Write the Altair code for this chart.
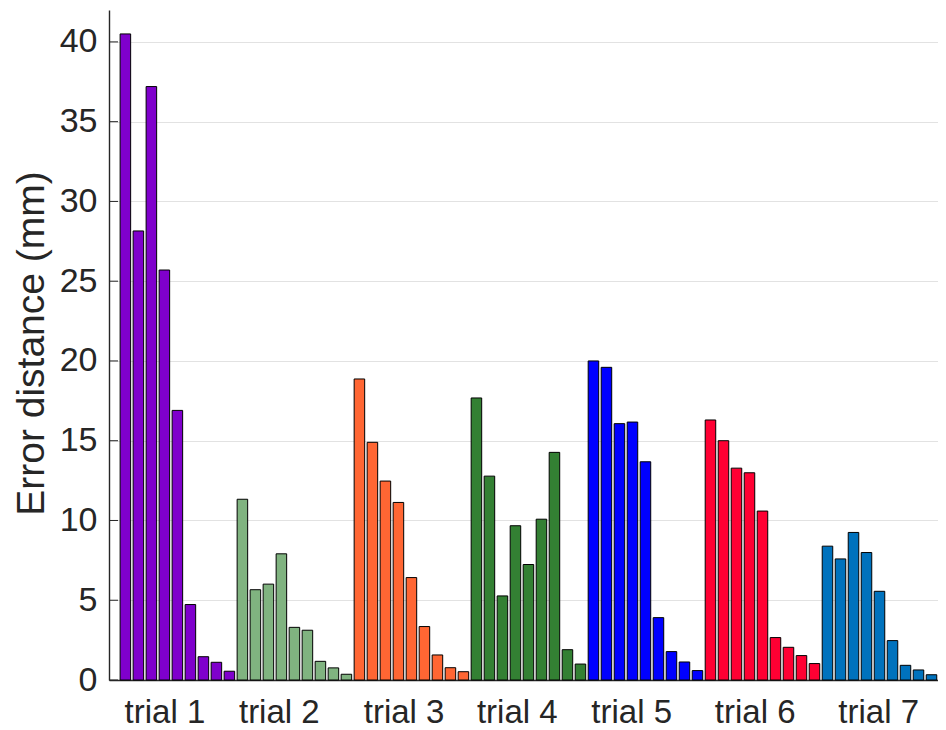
import altair as alt
import pandas as pd

trials = ["trial 1", "trial 2", "trial 3", "trial 4", "trial 5", "trial 6", "trial 7"]
colors = ["#7F00CC", "#80B380", "#FF6633", "#338033", "#0000FF", "#FF0033", "#0072BD"]

trial1 = [40.5, 28.15, 37.2, 25.7, 16.9, 4.73, 1.46, 1.11, 0.55]
trial2 = [11.33, 5.66, 6.01, 7.91, 3.30, 3.12, 1.17, 0.76, 0.36]
trial3 = [18.87, 14.9, 12.47, 11.13, 6.42, 3.35, 1.57, 0.77, 0.52]
trial4 = [17.68, 12.78, 5.27, 9.67, 7.24, 10.08, 14.27, 1.90, 1.00]
trial5 = [20.0, 19.6, 16.07, 16.17, 13.68, 3.91, 1.78, 1.13, 0.59]
trial6 = [16.3, 15.0, 13.28, 12.99, 10.59, 2.66, 2.05, 1.53, 1.03]
trial7 = [8.39, 7.59, 9.25, 7.99, 5.56, 2.47, 0.92, 0.63, 0.33]

label_pos = [3.5, 12.3, 21.9, 30.6, 39.4, 48.9, 58.4]
y_ticks = [0, 5, 10, 15, 20, 25, 30, 35, 40]

series = [trial1, trial2, trial3, trial4, trial5, trial6, trial7]
rows = []
idx = 0
for name, vals in zip(trials, series):
    for v in vals:
        rows.append({"trial": name, "idx": idx, "value": v})
        idx += 1
df = pd.DataFrame(rows)

# label expression built from the tick positions / names
expr = "''"
for pos, name in reversed(list(zip(label_pos, trials))):
    expr = f"abs(datum.value - {pos}) < 0.01 ? '{name}' : ({expr})"

FONT = "Liberation Sans"
DARK = "#262626"

yscale = alt.Scale(domain=[0, 42], nice=False)

bars = alt.Chart(df).transform_calculate(
    x0="datum.idx + 0.095", x1="datum.idx + 0.905"
).mark_bar(stroke="black", strokeWidth=1).encode(
    x=alt.X(
        "x0:Q",
        scale=alt.Scale(domain=[-0.76, 63], nice=False, zero=False),
        axis=alt.Axis(
            values=label_pos,
            labelExpr=expr,
            ticks=False,
            grid=False,
            domainColor=DARK,
            domainWidth=1.4,
            labelFont=FONT,
            labelFontSize=33,
            labelColor=DARK,
            labelPadding=16,
            labelOverlap=False,
            labelFlush=False,
            title=None,
        ),
    ),
    x2="x1:Q",
    y=alt.Y(
        "value:Q",
        scale=yscale,
        axis=alt.Axis(
            values=y_ticks,
            ticks=False,
            grid=True,
            gridColor="#e2e2e2",
            gridWidth=1,
            domainColor=DARK,
            domainWidth=1.4,
            labelFont=FONT,
            labelFontSize=34,
            labelColor=DARK,
            labelPadding=12,
            title="Error distance (mm)",
            titleFont=FONT,
            titleFontSize=39,
            titleFontWeight="normal",
            titleColor=DARK,
            titleAngle=270,
            titleX=-66,
            titleY=333,
            titleAlign="center",
            titleBaseline="alphabetic",
        ),
    ),
    y2=alt.datum(0),
    color=alt.Color("trial:N", scale=alt.Scale(domain=trials, range=colors), legend=None),
)

ticks = alt.Chart(pd.DataFrame({"v": y_ticks})).mark_rule(
    color=DARK, strokeWidth=1
).encode(
    y=alt.Y("v:Q", scale=yscale),
    x=alt.value(0),
    x2=alt.value(9),
)

chart = alt.layer(bars, ticks).properties(
    width=829,
    height=670,
    autosize=alt.AutoSizeParams(type="none"),
    padding={"left": 101, "top": 2, "right": 0, "bottom": 50},
).configure_view(stroke=None)

chart.save("out.html", embed_options={"renderer": "svg", "actions": False})
